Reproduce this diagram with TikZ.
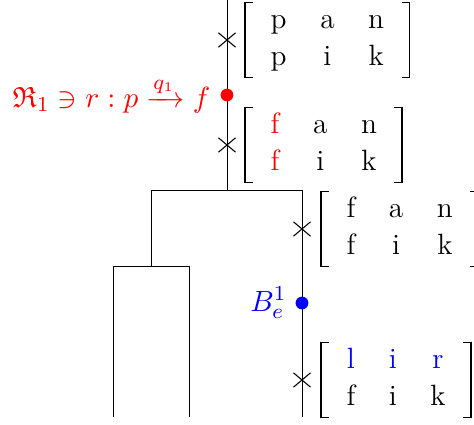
\documentclass[tikz,border=0pt]{standalone}
\usepackage{amsmath,amssymb}
\usetikzlibrary{shapes.misc}
\newcommand{\mymat}[6]{$\begin{array}{ccc} #1 & #2 & #3\\ #4 & #5 & #6\end{array}$}
\tikzset{
  edge/.style={line width=0.32pt},
  crossmark/.style={cross out,draw,line width=0.4pt,minimum width=6pt,minimum height=5pt,inner sep=0pt},
  dotmark/.style={circle,fill,inner sep=0pt,minimum size=4.8pt},
  mat/.style={anchor=west,inner ysep=0pt,inner xsep=3.0pt,font=\fontsize{11}{13.6}\selectfont},
  lab/.style={anchor=east,inner sep=0pt,font=\fontsize{11}{13.6}\selectfont},
  brk/.style={line width=0.4pt},
  stem/.style={line width=0.7pt},
}
\newcommand{\brackets}[1]{%
  \draw[brk] ([xshift=3pt]#1.north west) -- (#1.north west);
  \draw[brk] ([xshift=3pt]#1.south west) -- (#1.south west);
  \draw[stem] ([yshift=0.2pt]#1.north west) -- ([yshift=-0.2pt]#1.south west);
  \draw[brk] ([xshift=-3pt]#1.north east) -- (#1.north east);
  \draw[brk] ([xshift=-3pt]#1.south east) -- (#1.south east);
  \draw[stem] ([yshift=0.2pt]#1.north east) -- ([yshift=-0.2pt]#1.south east);}
\begin{document}
\begin{tikzpicture}[x=0.375pt,y=-0.375pt]
\setlength{\arraycolsep}{6.3pt}
\renewcommand{\arraystretch}{1.02}
\useasboundingbox (0,0) rectangle (474,425);
% tree coordinates
\coordinate (top) at (227,0);
\coordinate (j1) at (227,190);
\coordinate (jl) at (151,190);
\coordinate (jr) at (302,190);
\coordinate (j2) at (151,266);
\coordinate (ll) at (113,266);
\coordinate (lr) at (189,266);
\coordinate (llb) at (113,417);
\coordinate (lrb) at (189,417);
\coordinate (rb) at (302,417);
\draw[edge] (top) -- (j1);
\draw[edge] (jl) -- (jr);
\draw[edge] (jl) -- (j2);
\draw[edge] (ll) -- (lr);
\draw[edge] (ll) -- (llb);
\draw[edge] (lr) -- (lrb);
\draw[edge] (jr) -- (rb);
% marks
\node[crossmark] (c1) at (227,40) {};
\node[crossmark] (c2) at (227,145) {};
\node[crossmark] (c3) at (302,229) {};
\node[crossmark] (c4) at (302,380) {};
\node[dotmark,red] (d1) at (227,95) {};
\node[dotmark,blue] (d2) at (302,303) {};
% labels
\node[lab,red] (l1) at ([xshift=-3.5pt]d1.west) {$\mathfrak{R}_1\ni r:p\xrightarrow{q_1}f$};
\node[lab,blue] (l2) at ([xshift=-3pt]d2.west) {$B_e^1$};
% matrices
\node[mat] (m1) at ([xshift=6.9pt]c1.center) {\mymat{\text{p}}{\text{a}}{\text{n}}{\text{p}}{\text{i}}{\text{k}}};
\node[mat] (m2) at ([xshift=6.9pt]c2.center) {\mymat{\textcolor{red}{\text{f}}}{\text{a}}{\text{n}}{\textcolor{red}{\text{f}}}{\text{i}}{\text{k}}};
\node[mat] (m3) at ([xshift=7.2pt]c3.center) {\mymat{\text{f}}{\text{a}}{\text{n}}{\text{f}}{\text{i}}{\text{k}}};
\node[mat] (m4) at ([xshift=7.2pt]c4.center) {\mymat{\textcolor{blue}{\text{l}}}{\textcolor{blue}{\text{i}}}{\textcolor{blue}{\text{r}}}{\text{f}}{\text{i}}{\text{k}}};
\brackets{m1}
\brackets{m2}
\brackets{m3}
\brackets{m4}
\end{tikzpicture}
\end{document}
